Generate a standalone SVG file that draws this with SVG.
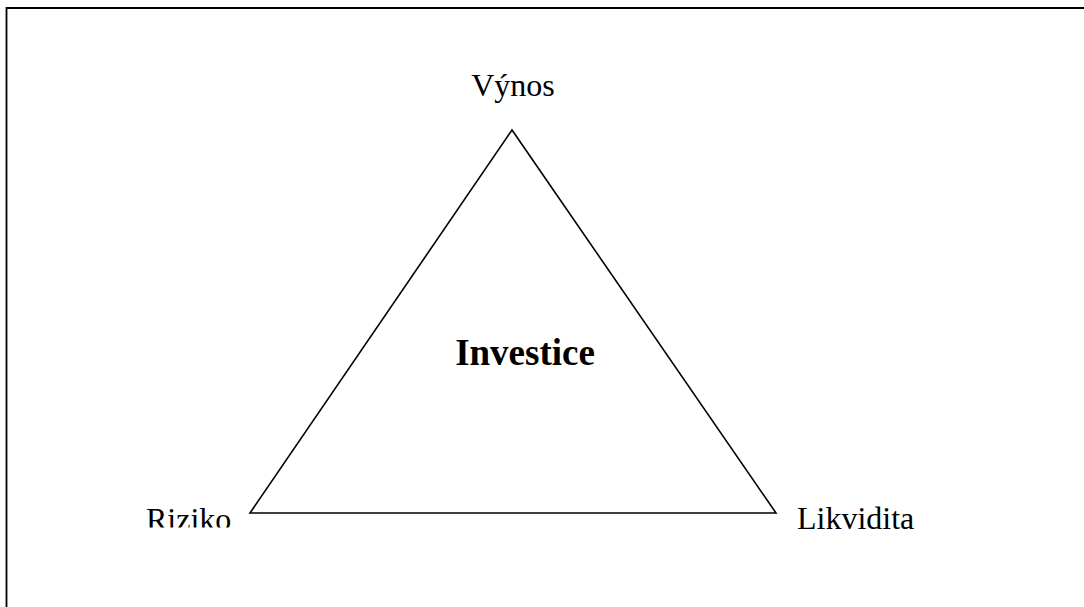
<svg xmlns="http://www.w3.org/2000/svg" width="1084" height="607" viewBox="0 0 1084 607">
<style>
.lbl{font-family:"Liberation Serif","Times New Roman",serif;font-size:32px;fill:#000}
.ttl{font-family:"Liberation Serif","Times New Roman",serif;font-size:37px;font-weight:bold;fill:#000}
.edge{fill:none;stroke:#000;stroke-width:1.6}
</style>
<defs>
<clipPath id="clipR"><rect x="0" y="0" width="1084" height="527.5"/></clipPath>
</defs>
<rect width="1084" height="607" fill="#fff"/>
<path d="M6.5,610 V8 H1090" fill="none" stroke="#000" stroke-width="1.8"/>
<g id="connectors">
<path class="edge" d="M512,130 L250,513 L776,513 Z" stroke-linejoin="miter"/>
</g>
<g id="vynos"><text class="lbl" x="513" y="96" text-anchor="middle">Výnos</text></g>
<g id="riziko" clip-path="url(#clipR)"><text class="lbl" x="146" y="530">Riziko</text></g>
<g id="likvidita"><text class="lbl" x="797" y="529">Likvidita</text></g>
<g id="investice"><text class="ttl" x="525" y="365" text-anchor="middle">Investice</text></g>
</svg>
